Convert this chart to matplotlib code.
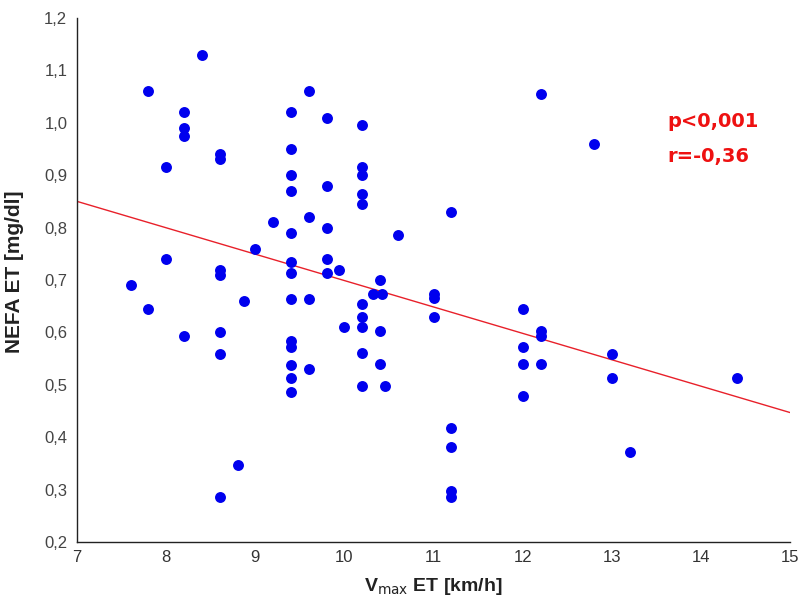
import matplotlib
matplotlib.use("Agg")
import matplotlib.pyplot as plt
import numpy as np

# data
vmax = [7.6, 7.8, 7.8, 8.0, 8.0, 8.2, 8.2, 8.2, 8.2, 8.4,
        8.6, 8.6, 8.6, 8.6, 8.6, 8.6, 8.6, 8.8, 8.87, 9.0, 9.2,
        9.4, 9.4, 9.4, 9.4, 9.4, 9.4, 9.4, 9.4, 9.4, 9.4, 9.4, 9.4, 9.4,
        9.6, 9.6, 9.6, 9.6,
        9.8, 9.8, 9.8, 9.8, 9.8,
        9.94, 10.0,
        10.2, 10.2, 10.2, 10.2, 10.2, 10.2, 10.2, 10.2, 10.2, 10.2,
        10.32, 10.4, 10.42, 10.4, 10.4, 10.46, 10.6,
        11.0, 11.0, 11.0, 11.2, 11.2, 11.2, 11.2, 11.2,
        12.0, 12.0, 12.0, 12.0, 12.2, 12.2, 12.2, 12.2, 12.8,
        13.0, 13.0, 13.2, 14.4]
nefa = [0.69, 1.06, 0.645, 0.915, 0.74, 1.02, 0.99, 0.975, 0.593, 1.13,
        0.94, 0.93, 0.72, 0.71, 0.60, 0.558, 0.286, 0.347, 0.66, 0.76, 0.81,
        1.02, 0.95, 0.90, 0.87, 0.79, 0.735, 0.713, 0.663, 0.583, 0.573, 0.538, 0.513, 0.487,
        1.06, 0.82, 0.663, 0.531,
        1.01, 0.88, 0.80, 0.74, 0.713,
        0.72, 0.611,
        0.995, 0.915, 0.90, 0.865, 0.845, 0.655, 0.63, 0.611, 0.560, 0.498,
        0.673, 0.70, 0.673, 0.602, 0.540, 0.498, 0.785,
        0.673, 0.665, 0.63, 0.83, 0.417, 0.382, 0.297, 0.286,
        0.645, 0.573, 0.540, 0.479, 1.055, 0.602, 0.593, 0.540, 0.96,
        0.558, 0.513, 0.372, 0.513]

fit_x = [7, 15]
fit_y = [0.85, 0.447]

xticks = [7, 8, 9, 10, 11, 12, 13, 14, 15]
yticks = [0.2, 0.3, 0.4, 0.5, 0.6, 0.7, 0.8, 0.9, 1.0, 1.1, 1.2]
ytick_labels = ["0,2", "0,3", "0,4", "0,5", "0,6", "0,7", "0,8", "0,9", "1,0", "1,1", "1,2"]

annot = ["p<0,001", "r=-0,36"]

fig = plt.figure(figsize=(8.03, 6.06), dpi=100)
ax = fig.add_axes([0.096, 0.1056, 0.888, 0.8647])

ax.scatter(vmax, nefa, s=62, color="#0000ee", zorder=3, linewidths=0)
ax.plot(fit_x, fit_y, color="#e8202a", lw=1.0, zorder=2)

ax.set_xlim(7, 15)
ax.set_ylim(0.2, 1.2)
ax.set_xticks(xticks)
ax.set_xticklabels([str(t) for t in xticks], fontfamily="Liberation Sans", fontsize=12, color="#333333")
ax.set_yticks(yticks)
ax.set_yticklabels(ytick_labels, fontfamily="Liberation Sans", fontsize=12, color="#444444")
ax.tick_params(axis="both", length=0)
ax.tick_params(axis="x", pad=6)
ax.tick_params(axis="y", pad=7)

for s in ["top", "right"]:
    ax.spines[s].set_visible(False)
for s in ["left", "bottom"]:
    ax.spines[s].set_color("#222222")
    ax.spines[s].set_linewidth(1.0)

ax.set_ylabel("NEFA ET [mg/dl]", fontfamily="Liberation Sans", fontweight="bold",
              fontsize=15, color="#222222")
ax.yaxis.set_label_coords(-0.074, 0.515)
ax.set_xlabel(r"V$_{\mathrm{max}}$ ET [km/h]", fontfamily="Liberation Sans", fontweight="bold",
              fontsize=14, color="#222222", labelpad=8)

ax.text(0.8275, 0.803, annot[0], transform=ax.transAxes, color="#ee1111",
        fontsize=14, fontfamily="DejaVu Sans", fontweight="bold", va="center", ha="left")
ax.text(0.8275, 0.735, annot[1], transform=ax.transAxes, color="#ee1111",
        fontsize=14, fontfamily="DejaVu Sans", fontweight="bold", va="center", ha="left")

fig.savefig("out.png", dpi=100)
